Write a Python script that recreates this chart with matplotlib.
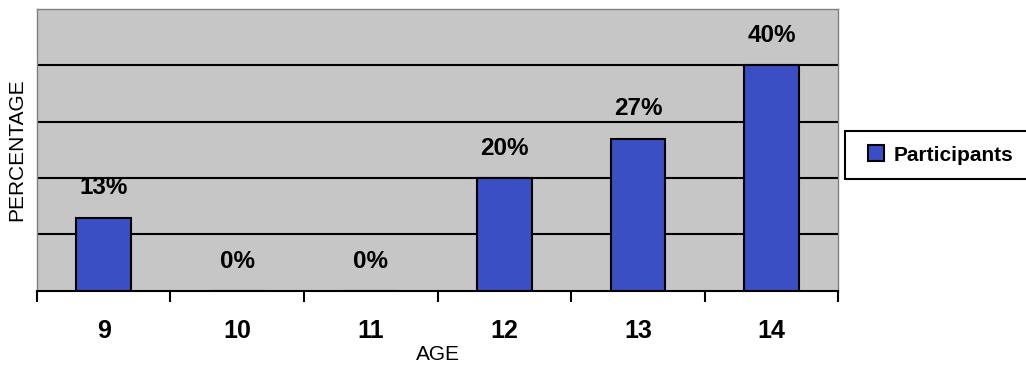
import matplotlib.pyplot as plt
from matplotlib.lines import Line2D
import numpy as np

plt.rcParams['font.family'] = ['Liberation Sans', 'DejaVu Sans']

ages = ['9', '10', '11', '12', '13', '14']
participants = [13, 0, 0, 20, 27, 40]
labels = ['13%', '0%', '0%', '20%', '27%', '40%']

fig = plt.figure(figsize=(10.26, 3.65), dpi=100)
ax = fig.add_axes([0.036, 0.203, 0.781, 0.773])

x = np.arange(len(ages))
bars = ax.bar(x, participants, width=0.41, color='#3a4fc4', edgecolor='black',
              linewidth=1.5, zorder=3)

ax.set_facecolor('#c6c6c6')
ax.set_xlim(-0.5, len(ages) - 0.5)
ax.set_ylim(0, 50)

# gridlines
for yv in [10, 20, 30, 40]:
    ax.axhline(yv, color='black', linewidth=1.5, zorder=1)

for i, v in enumerate(participants):
    ax.annotate(labels[i], (x[i], v), xytext=(0, 13), textcoords='offset points',
                ha='center', va='bottom', fontsize=17.5, fontweight='bold')

ax.set_yticks([])
ax.set_xticks(x)
ax.set_xticklabels(ages, fontsize=18, fontweight='bold')
ax.tick_params(axis='x', which='major', length=0, pad=20)
ax.set_xticks(np.arange(-0.5, len(ages)), minor=True)
ax.tick_params(axis='x', which='minor', length=8, width=1.5, direction='out')

for s in ['left', 'top', 'right']:
    ax.spines[s].set_color('#808080')
    ax.spines[s].set_linewidth(1)
ax.spines['bottom'].set_linewidth(1.5)

ax.set_xlabel('AGE', fontsize=15, labelpad=2)
ax.set_ylabel('PERCENTAGE', fontsize=15, labelpad=8)

handle = Line2D([], [], linestyle='none', marker='s', markersize=11.5,
                markerfacecolor='#3a4fc4', markeredgecolor='black', markeredgewidth=1.5)
leg = fig.legend([handle], ['Participants'], loc='center left',
                 bbox_to_anchor=(0.8236, 0.575), fancybox=False,
                 edgecolor='black', framealpha=1, borderpad=0.7,
                 handlelength=1.6, handletextpad=0.05,
                 borderaxespad=0, prop={'weight': 'bold', 'size': 15})
leg.get_frame().set_linewidth(1.5)

fig.savefig('out.png', dpi=100)
